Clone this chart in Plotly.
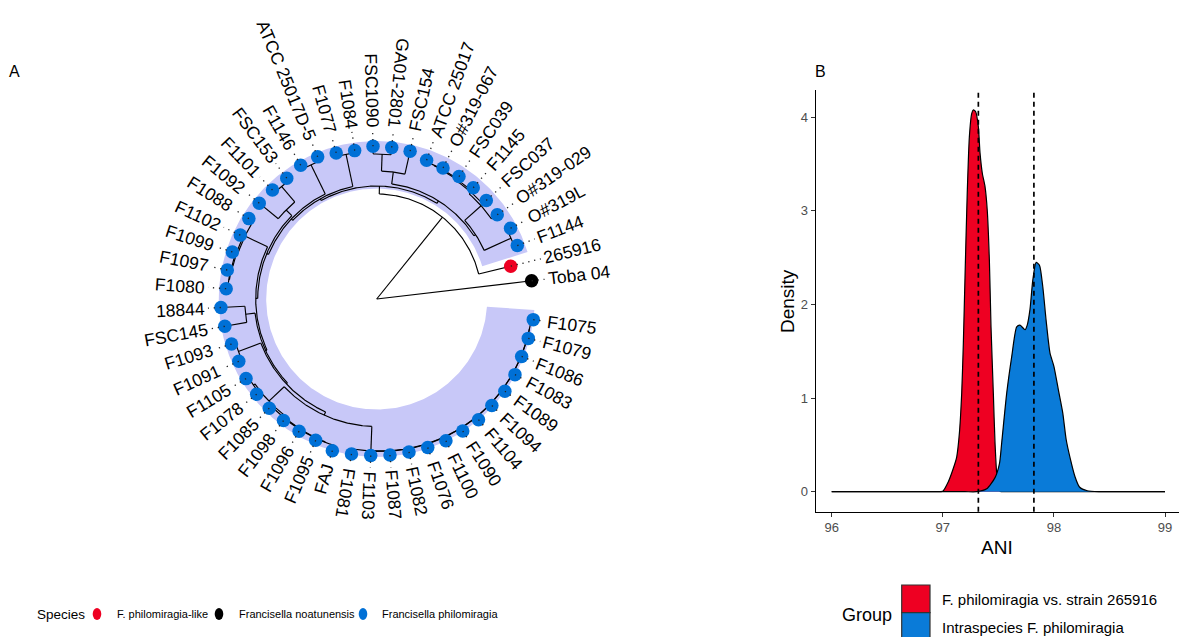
import numpy as np
import plotly.graph_objects as go

# ---------------- data: phylogeny (panel A) ----------------
tip_labels = ["Toba 04", "265916", "F1144", "O#319L", "O#319-029", "FSC037", "F1145", "FSC039",
              "O#319-067", "ATCC 25017", "FSC154", "GA01-2801", "FSC1090", "F1084", "F1077",
              "ATCC 25017D-5", "F1146", "FSC153", "F1101", "F1092", "F1088", "F1102", "F1099",
              "F1097", "F1080", "18844", "FSC145", "F1093", "F1091", "F1105", "F1078", "F1085",
              "F1098", "F1096", "F1095", "FAJ", "F1081", "F1103", "F1087", "F1082", "F1076",
              "F1100", "F1090", "F1104", "F1094", "F1089", "F1083", "F1086", "F1079", "F1075"]
tip_species = ["Francisella noatunensis", "F. philomiragia-like"] + ["Francisella philomiragia"] * 48
tip_parent = ["root", "P", "C23", "C23", "C49", "C5", "C6", "C7", "C89", "C89", "T", "TC", "TC",
              "S1", "S1", "S2", "S2", "S3a", "S3a", "S3", "S4", "S4b", "S4c", "S4d", "S4d", "S5", "S5",
              "S6", "S6", "S7a", "S7a", "S7b", "S7c", "S7d", "S7e", "S7e", "S8", "K37", "K38", "K39",
              "K40", "K41", "K42", "K43", "K44", "K45", "K46", "K47", "K48", "K48"]
# distance from root (divergence)
tip_depth = [156, 138, 150.4, 151.4, 147, 147.4, 147.3, 147.5, 146.9, 147.4, 151.6, 152.3, 152.8,
             150, 151.6, 153.9, 153.8, 150.6, 150.8, 151.6, 151, 150.6, 151.8, 152.2, 150.9, 156,
             154.3, 152, 151.3, 153, 153.2, 153.2, 153.2, 153.3, 153.9, 158, 157, 156.7, 156.6,
             156.3, 157, 157.7, 157.6, 157.9, 156.9, 157.9, 157.6, 155.9, 156.6, 157.9]

node_names = ["root", "P", "Q", "A", "Q1", "C23", "C49", "C5", "C6", "C7", "C89", "T", "TC",
              "Q3", "S1", "N2", "S2", "N3", "S3", "S3a", "N4", "S4", "S4b", "S4c", "S4d", "N5", "S5",
              "N6", "S6", "N7", "S7", "S7a", "S7b", "S7c", "S7d", "S7e", "S8", "K37", "K38", "K39",
              "K40", "K41", "K42", "K43", "K44", "K45", "K46", "K47", "K48"]
node_parent = [None, "root", "P", "Q", "A", "Q1", "Q1", "C49", "C5", "C6", "C7", "A", "T",
               "Q", "Q3", "Q3", "N2", "N2", "N3", "S3", "N3", "N4", "S4", "S4b", "S4c", "N4", "N5",
               "N5", "N6", "N6", "N7", "S7", "S7", "S7b", "S7c", "S7d", "N7", "S8", "K37", "K38",
               "K39", "K40", "K41", "K42", "K43", "K44", "K45", "K46", "K47"]
node_depth = [0, 105, 113, 116, 118, 147.5, 140, 142.5, 144, 145, 145.8, 128, 145,
              115, 148, 117, 149.5, 119, 127, 147.5, 121, 146, 147.5, 148.5, 149.3, 122.5, 132,
              124, 148, 127.5, 148.5, 150.5, 150.5, 151.2, 151.8, 152.4, 152, 152.5, 153, 153.4,
              153.8, 154.2, 154.5, 154.8, 155, 155.2, 155.4, 155.6, 155.8]
hilight_node = "Q"

species_names = ["F. philomiragia-like", "Francisella noatunensis", "Francisella philomiragia"]
species_colors = ["#EE0022", "#000000", "#0070D6"]

# ---------------- data: ANI density (panel B) ----------------
red_x = [96.0, 96.5, 96.9, 97.0, 97.05, 97.095, 97.125, 97.149, 97.17, 97.185, 97.2, 97.22, 97.239,
         97.26, 97.275, 97.296, 97.32, 97.335, 97.356, 97.38, 97.4, 97.419, 97.434, 97.455, 97.47,
         97.49, 97.515, 97.56, 97.7, 98.0, 98.5, 99.0]
red_y = [0, 0, 0, 0.005, 0.107, 0.25, 0.37, 0.62, 1.05, 1.585, 2.3, 3.19, 3.79, 4.04, 4.08, 4.06,
         3.9, 3.62, 3.4, 3.26, 3.01, 2.48, 1.76, 1.05, 0.52, 0.13, 0.005, 0, 0, 0, 0, 0]
blue_x = [96.0, 96.5, 97.0, 97.2, 97.305, 97.395, 97.47, 97.51, 97.53, 97.575, 97.62, 97.665, 97.695,
          97.74, 97.76, 97.785, 97.81, 97.84, 97.87, 97.9, 97.93, 97.965, 98.0, 98.04, 98.08, 98.11,
          98.15, 98.19, 98.23, 98.3, 98.41, 98.6, 98.8, 99.0]
blue_y = [0, 0, 0, 0, 0, 0.03, 0.15, 0.3, 0.52, 1.05, 1.44, 1.76, 1.78, 1.73, 1.78, 1.95, 2.26, 2.45,
          2.42, 2.19, 1.83, 1.48, 1.34, 1.09, 0.84, 0.56, 0.34, 0.16, 0.05, 0.01, 0, 0, 0, 0]
mean_ani = [97.32, 97.82]
group_names = ["F. philomiragia vs. strain 265916", "Intraspecies F. philomiragia"]
group_colors = ["#EE0022", "#0A7BD8"]
x_ticks = [96, 97, 98, 99]
y_ticks = [0, 1, 2, 3, 4]

# ---------------- layout parameters ----------------
W, H = 1179, 637
CX, CY = 376.7, 299.0        # pixel position of tree root
open_start, open_step = 6.7, 7.057
flip_lo, flip_hi = 79.3, 259.3
label_r = 172.0
label_size = 17.5
FONT = "Liberation Sans, Arial, sans-serif"

# ---------------- tree layout (circular) ----------------
parent_of, depth = {}, {}
for n, p, d in zip(node_names, node_parent, node_depth):
    parent_of[n] = p
    depth[n] = d
for t, p, d in zip(tip_labels, tip_parent, tip_depth):
    parent_of[t] = p
    depth[t] = d
children = {n: [] for n in node_names}
for k, p in parent_of.items():
    if p is not None:
        children[p].append(k)

angle = {t: open_start + i * open_step for i, t in enumerate(tip_labels)}


def get_angle(n):
    if n not in angle:
        angle[n] = float(np.mean([get_angle(c) for c in children[n]]))
    return angle[n]


get_angle("root")


def pol(r, a):
    t = np.radians(a)
    return r * np.cos(t), r * np.sin(t)


def tips_under(n):
    if n not in children:
        return [n]
    out = []
    for c in children[n]:
        out += tips_under(c)
    return out


fig = go.Figure()

# highlight
clade = tips_under(hilight_node)
a_lo = min(angle[t] for t in clade) - open_step / 2
a_hi = max(angle[t] for t in clade) + open_step / 2
r_in = (depth[parent_of[hilight_node]] + depth[hilight_node]) / 2 + 1.5
r_out = max(depth[t] for t in clade)
th = np.linspace(a_lo, a_hi, 400)
hx = list(r_out * np.cos(np.radians(th))) + list(r_in * np.cos(np.radians(th[::-1])))
hy = list(r_out * np.sin(np.radians(th))) + list(r_in * np.sin(np.radians(th[::-1])))
fig.add_trace(go.Scatter(x=hx, y=hy, fill="toself", fillcolor="#C8C8F8", mode="lines",
                         line=dict(width=0, color="#C8C8F8"), hoverinfo="skip", xaxis="x", yaxis="y"))

# branches
lx, ly = [], []
for n in node_names + tip_labels:
    p = parent_of[n]
    if p is None:
        continue
    x0, y0 = pol(depth[p], angle[n])
    x1, y1 = pol(depth[n], angle[n])
    lx += [x0, x1, None]
    ly += [y0, y1, None]
for n in node_names:
    if depth[n] == 0:
        continue
    ch = [angle[c] for c in children[n]]
    th = np.linspace(min(ch), max(ch), int((max(ch) - min(ch)) * 2) + 2)
    xs, ys = pol(depth[n], th)
    lx += list(xs) + [None]
    ly += list(ys) + [None]
fig.add_trace(go.Scatter(x=lx, y=ly, mode="lines", line=dict(color="black", width=1.15),
                         hoverinfo="skip", xaxis="x", yaxis="y"))

# tip points
for sp, col in zip(species_names, species_colors):
    pts = [t for t, s in zip(tip_labels, tip_species) if s == sp]
    px = [pol(depth[t], angle[t])[0] for t in pts]
    py = [pol(depth[t], angle[t])[1] for t in pts]
    fig.add_trace(go.Scatter(x=px, y=py, mode="markers", name=sp, text=pts,
                             marker=dict(size=13.5, color=col, line=dict(width=0)),
                             xaxis="x", yaxis="y"))

# dotted leaders to aligned labels
dx, dy = [], []
for t in tip_labels:
    x0, y0 = pol(depth[t], angle[t])
    x1, y1 = pol(label_r - 3, angle[t])
    dx += [x0, x1, None]
    dy += [y0, y1, None]
fig.add_trace(go.Scatter(x=dx, y=dy, mode="lines", line=dict(color="#222222", width=1.3, dash="1.3px,4.7px"),
                         hoverinfo="skip", xaxis="x", yaxis="y"))

# tip labels
AFM = {c: 556 for c in "0123456789#L"}
AFM.update({'A': 667, 'C': 722, 'D': 722, 'F': 611, 'G': 778, 'J': 500, 'O': 778, 'S': 667,
            'T': 611, '-': 333, ' ': 278, 'a': 556, 'b': 556, 'o': 556})


def text_w(s, size):
    return sum(AFM.get(c, 600) for c in s) * size / 1000.0


annotations = []
for t in tip_labels:
    a = angle[t]
    w = text_w(t, label_size)
    xc, yc = pol(label_r + w / 2, a)
    if flip_lo < a < flip_hi:
        ta = 180 - a
    else:
        ta = -a
    ta = ((ta + 180) % 360) - 180
    annotations.append(dict(x=xc, y=yc, xref="x", yref="y", text=t, showarrow=False,
                            textangle=ta, xanchor="center", yanchor="middle",
                            font=dict(family=FONT, size=label_size, color="black")))

# ---------------- density traces ----------------
for xs, ys, col, nm in [(red_x, red_y, group_colors[0], group_names[0]),
                        (blue_x, blue_y, group_colors[1], group_names[1])]:
    fig.add_trace(go.Scatter(x=xs, y=ys, mode="lines", fill="tozeroy", fillcolor=col, name=nm,
                             line=dict(color="black", width=1.2, shape="spline", smoothing=0.6),
                             xaxis="x2", yaxis="y2"))

shapes = []
for m in mean_ani:
    shapes.append(dict(type="line", xref="x2", yref="y2 domain", x0=m, x1=m, y0=0, y1=1,
                       line=dict(color="black", width=1.7, dash="5px,4px")))


def PX(px):
    return px / W


def PY(py):
    return 1 - py / H


def txt(x, y, s, size, xanchor="center", angle=0):
    return dict(x=PX(x), y=PY(y), xref="paper", yref="paper", text=s, showarrow=False,
                xanchor=xanchor, yanchor="middle", textangle=angle,
                font=dict(family=FONT, size=size, color="black"))


# ---------------- legends ----------------
annotations.append(txt(35, 614, "Species", 13.5, "left"))
for cxp, txp, sp, col in zip([97, 219, 363], [115, 237, 380], species_names, species_colors):
    shapes.append(dict(type="circle", xref="paper", yref="paper", x0=PX(cxp - 4.3), x1=PX(cxp + 4.3),
                       y0=PY(614 + 6), y1=PY(614 - 6), fillcolor=col, line=dict(width=0)))
    annotations.append(txt(txp, 614, sp, 11, "left"))

annotations.append(txt(840, 615, "Group", 18, "left"))
for i, (gn, col) in enumerate(zip(group_names, group_colors)):
    top = 585 + i * 27.7
    shapes.append(dict(type="rect", xref="paper", yref="paper", x0=PX(901.7), x1=PX(930),
                       y0=PY(top + 27.7), y1=PY(top), fillcolor=col,
                       line=dict(color="#333333", width=1.2)))
    annotations.append(txt(940, 599 + i * 28, gn, 15, "left"))

# panel letters and axis titles
annotations.append(txt(15, 72, "A", 16))
annotations.append(txt(821, 72, "B", 16))
annotations.append(txt(997, 547, "ANI", 19))
annotations.append(txt(787, 301, "Density", 19, "center", -90))

tree_w = 0.62 * W
fig.update_layout(
    width=W, height=H, margin=dict(l=0, r=0, t=0, b=0),
    paper_bgcolor="white", plot_bgcolor="white", showlegend=False,
    font=dict(family=FONT),
    xaxis=dict(domain=[0, 0.62], range=[-CX, tree_w - CX], visible=False, fixedrange=True),
    yaxis=dict(domain=[0, 1], range=[CY - H, CY], visible=False, fixedrange=True),
    xaxis2=dict(domain=[815.7 / W, 1], range=[95.856, 99.126], anchor="y2",
                showline=True, linecolor="black", linewidth=1.1, ticks="outside", ticklen=4,
                tickcolor="#333333", tickvals=x_ticks, showgrid=False, zeroline=False,
                tickfont=dict(family=FONT, size=13, color="#4D4D4D")),
    yaxis2=dict(domain=[1 - 511.7 / H, 1 - 90 / H], range=[-0.214, 4.292], anchor="x2",
                showline=True, linecolor="black", linewidth=1.1, ticks="outside", ticklen=4,
                tickcolor="#333333", tickvals=y_ticks, showgrid=False, zeroline=False,
                tickfont=dict(family=FONT, size=13, color="#4D4D4D")),
    shapes=shapes, annotations=annotations,
)

fig.write_html("out.html", config={"displayModeBar": False},
               post_script="document.body.style.margin='0px';document.body.style.padding='0px';"
                           "document.documentElement.style.overflow='hidden';")
